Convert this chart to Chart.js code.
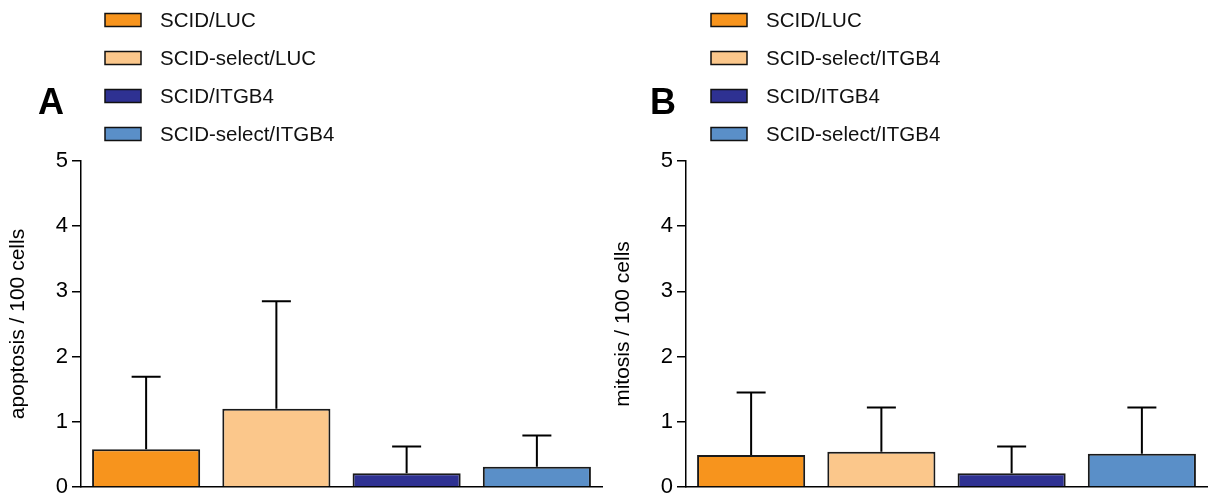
<!DOCTYPE html>
<html>
<head>
<meta charset="utf-8">
<script src="https://cdn.jsdelivr.net/npm/chart.js@4.4.0/dist/chart.umd.min.js"></script>
<style>
    body { margin: 0; background: #fff; }
    .panel { position: absolute; top: 0; width: 605px; height: 495px; }
</style>
</head>
<body>
<div class="panel" style="left:0"><canvas id="chartA" width="605" height="495"></canvas></div>
<div class="panel" style="left:605px"><canvas id="chartB" width="605" height="495"></canvas></div>
<script>
// group names (panel B legend lists its own names)
var groupsA = ["SCID/LUC", "SCID-select/LUC", "SCID/ITGB4", "SCID-select/ITGB4"];
var groupsB = ["SCID/LUC", "SCID-select/ITGB4", "SCID/ITGB4", "SCID-select/ITGB4"];

// means and upper error (SD) per group
var apoptosisMean = [0.58, 1.2, 0.21, 0.31];
var apoptosisErr = [1.11, 1.65, 0.41, 0.48];
var mitosisMean = [0.49, 0.54, 0.21, 0.51];
var mitosisErr = [0.96, 0.68, 0.41, 0.71];

var yTicks = [0, 1, 2, 3, 4, 5];
var groupColors = ["#F7941D", "#FBC78B", "#2E3192", "#5A8FC8"];

var fontFamily = "'Liberation Sans', Arial, sans-serif";

// upper-only error bars with caps
var errorBars = {
    id: "errorBars",
    afterDatasetsDraw: function (chart) {
        var ctx = chart.ctx;
        var yScale = chart.scales.y;
        var ds = chart.data.datasets[0];
        var meta = chart.getDatasetMeta(0);
        ctx.save();
        ctx.strokeStyle = "#000";
        ctx.lineWidth = 2;
        meta.data.forEach(function (bar, i) {
            var top = yScale.getPixelForValue(ds.data[i] + ds.errors[i]);
            ctx.beginPath();
            ctx.moveTo(bar.x, bar.y);
            ctx.lineTo(bar.x, top);
            ctx.moveTo(bar.x - 14.5, top);
            ctx.lineTo(bar.x + 14.5, top);
            ctx.stroke();
        });
        ctx.restore();
    },
};

// stacked legend with boxed swatches, plus the panel letter
var panelDecor = {
    id: "panelDecor",
    afterDraw: function (chart, args, opts) {
        var ctx = chart.ctx;
        ctx.save();
        ctx.textBaseline = "middle";
        ctx.textAlign = "left";
        ctx.font = "20.5px " + fontFamily;
        chart.data.labels.forEach(function (label, i) {
            var cy = 20 + i * 38;
            ctx.fillStyle = groupColors[i];
            ctx.fillRect(opts.boxX, cy - 6.5, 36, 13);
            ctx.strokeStyle = "#111";
            ctx.lineWidth = 1.5;
            ctx.strokeRect(opts.boxX, cy - 6.5, 36, 13);
            ctx.fillStyle = "#111";
            ctx.fillText(label, opts.boxX + 55, cy + 1);
        });
        ctx.font = "bold 36px " + fontFamily;
        ctx.fillStyle = "#000";
        ctx.fillText(opts.letter, opts.letterX, 104);
        ctx.restore();
    },
};

function makeChart(id, labels, means, errs, yTitle, letter, letterX, boxX) {
    var ctx = document.getElementById(id).getContext("2d");
    return new Chart(ctx, {
        type: "bar",
        data: {
            labels: labels,
            datasets: [
                {
                    data: means,
                    errors: errs,
                    backgroundColor: groupColors,
                    borderColor: "#1a1a1a",
                    borderWidth: 2,
                    barPercentage: 0.83,
                    categoryPercentage: 1,
                },
            ],
        },
        options: {
            responsive: false,
            animation: false,
            events: [],
            layout: { padding: { top: 161, right: 3, bottom: 8, left: 0 } },
            plugins: {
                legend: { display: false },
                tooltip: { enabled: false },
                panelDecor: { letter: letter, letterX: letterX, boxX: boxX },
            },
            scales: {
                x: {
                    ticks: { display: false },
                    grid: { display: false, drawTicks: false },
                    border: { display: true, color: "#000", width: 1.5 },
                    afterFit: function (scale) {
                        scale.height = 0;
                        scale.paddingLeft = 0;
                        scale.paddingRight = 0;
                    },
                },
                y: {
                    min: 0,
                    max: 5,
                    afterBuildTicks: function (scale) {
                        scale.ticks = yTicks.map(function (v) {
                            return { value: v };
                        });
                    },
                    ticks: {
                        color: "#000",
                        padding: 4,
                        font: { family: fontFamily, size: 22 },
                    },
                    grid: {
                        drawOnChartArea: false,
                        drawTicks: true,
                        tickLength: 9,
                        color: "#000",
                        lineWidth: 1.5,
                    },
                    border: { display: true, color: "#000", width: 1.5 },
                    title: {
                        display: true,
                        text: yTitle,
                        color: "#000",
                        padding: { top: 6, bottom: 0 },
                        font: { family: fontFamily, size: 21 },
                    },
                    afterFit: function (scale) {
                        scale.width = 81;
                        scale.paddingTop = 0;
                        scale.paddingBottom = 0;
                    },
                },
            },
        },
        plugins: [errorBars, panelDecor],
    });
}

makeChart("chartA", groupsA, apoptosisMean, apoptosisErr, "apoptosis / 100 cells", "A", 38, 105);
makeChart("chartB", groupsB, mitosisMean, mitosisErr, "mitosis / 100 cells", "B", 45, 106);
</script>
</body>
</html>
